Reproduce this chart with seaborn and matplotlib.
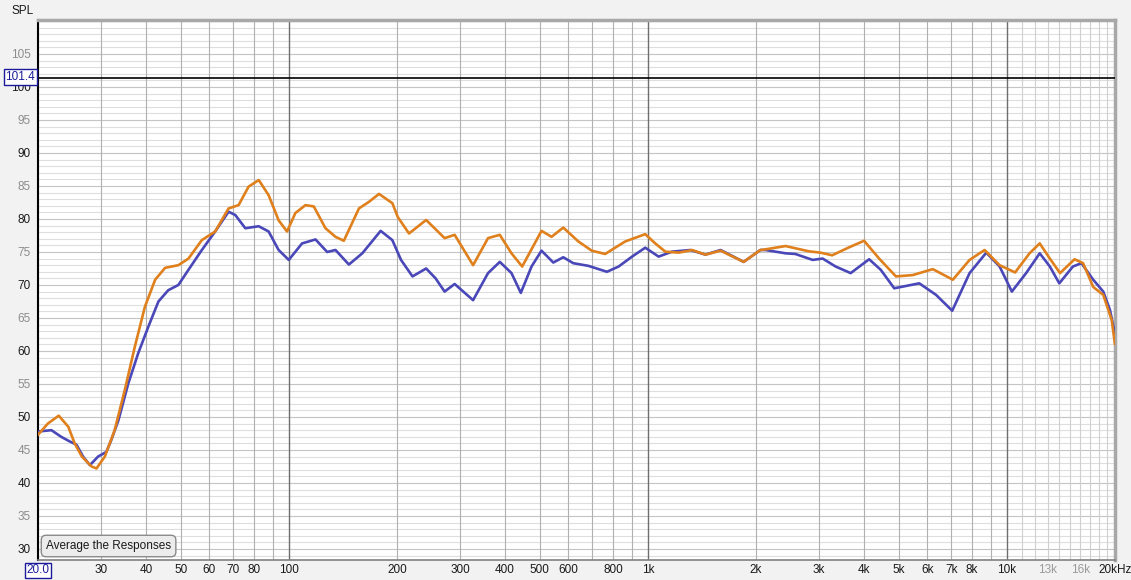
import numpy as np
import pandas as pd
import matplotlib
matplotlib.use("Agg")
import matplotlib.pyplot as plt
import seaborn as sns

# readings taken off the reference chart (Hz, dB SPL)
orange_freq = [20, 21.3, 22.85, 24.3, 25.3, 26.5, 28.2, 29.1, 30.7, 32.7, 34.9, 37.2,
               39.7, 42.4, 45.2, 49.2, 52.5, 57.2, 62.3, 67.9, 72.4, 77.2, 82.4,
               87.8, 93.6, 98.8, 104.2, 111.2, 117.3, 126.4, 134.8, 142.2, 156.7,
               167.1, 178.2, 194.1, 201, 216, 241.1, 271.4, 289.5, 325.8, 358.6,
               386.7, 416.8, 446.4, 505.3, 539, 581, 639.8, 697.4, 760, 864.6,
               982.9, 1048, 1118, 1218, 1327, 1446, 1593, 1848, 2057, 2126, 2417,
               2808, 3025, 3260, 3631, 4000, 4406, 4907, 5464, 6216, 7070, 7870,
               8665, 9542, 10540, 11560, 12340, 13170, 14060, 15430, 16300, 17390,
               18550, 19580, 20000]
orange_spl = [47.3, 49.0, 50.2, 48.5, 46.0, 44.0, 42.5, 42.2, 44.0, 48.0, 54.1, 60.6,
              66.7, 70.8, 72.6, 73.0, 74.0, 76.8, 78.1, 81.6, 82.1, 84.9, 85.9,
              83.6, 79.8, 78.1, 80.9, 82.1, 81.9, 78.6, 77.3, 76.7, 81.6,
              82.6, 83.8, 82.4, 80.3, 77.8, 79.85, 77.1, 77.6, 73.0, 77.1,
              77.6, 74.8, 72.8, 78.2, 77.3, 78.7, 76.6, 75.2, 74.7, 76.6,
              77.7, 76.3, 75.05, 74.9, 75.3, 74.6, 75.2, 73.5, 75.3, 75.4, 75.9,
              75.1, 74.9, 74.5, 75.7, 76.7, 74.0, 71.3, 71.5, 72.4, 70.8, 73.8,
              75.3, 73.0, 71.9, 74.8, 76.3, 74.0, 71.8, 73.9, 73.3, 69.7,
              68.5, 64.7, 61.0]

blue_freq = [20, 21.8, 23.2, 24.5, 25.6, 26.7, 27.9, 29.4, 31.0, 32.0, 33.5, 35.7,
             38.0, 40.6, 43.3, 46.1, 49.2, 52.5, 57.2, 62.3, 67.9, 70.9, 75.6,
             82.4, 87.8, 93.6, 99.9, 108.8, 118.6, 127.8, 134.8, 146.9, 160.1,
             180.1, 194.1, 205.2, 220.9, 241.1, 256.2, 271.4, 289.5, 325.8,
             358.6, 386.7, 416.8, 442.5, 474, 505.3, 545, 581, 619.5, 682.4,
             768.9, 828.7, 903.2, 982.9, 1071, 1167, 1312, 1446, 1593, 1848,
             2057, 2126, 2417, 2574, 2876, 3068, 3332, 3671, 4132, 4452, 4854,
             5700, 6347, 7040, 7870, 8760, 9542, 10320, 11310, 12340, 13170,
             13990, 15270, 16130, 17390, 18550, 19370, 20000]
blue_spl = [47.8, 48.0, 47.0, 46.3, 45.8, 44.0, 42.7, 44.0, 44.7, 46.5, 49.5, 55.1,
            59.6, 63.7, 67.5, 69.2, 70.0, 72.3, 75.3, 78.1, 81.1, 80.6, 78.6,
            78.9, 78.1, 75.3, 73.8, 76.3, 76.9, 75.0, 75.3, 73.1, 74.8,
            78.2, 76.8, 73.8, 71.3, 72.5, 71.0, 69.0, 70.15, 67.7,
            71.8, 73.5, 71.8, 68.8, 72.8, 75.2, 73.4, 74.2, 73.3, 72.9,
            72.0, 72.8, 74.3, 75.65, 74.3, 75.05, 75.3, 74.6, 75.3, 73.5,
            75.3, 75.3, 74.8, 74.7, 73.8, 74.0, 72.8, 71.8, 73.9, 72.3, 69.5,
            70.25, 68.5, 66.1, 71.8, 74.9, 72.8, 69.0, 71.8, 74.8, 72.8,
            70.25, 72.8, 73.3, 70.8, 69.0, 66.2, 62.5]

x_ticks = [20, 30, 40, 50, 60, 70, 80, 100, 200, 300, 400, 500, 600, 800,
           1000, 2000, 3000, 4000, 5000, 6000, 7000, 8000, 10000, 13000, 16000, 20000]
x_labels = ["20.0", "30", "40", "50", "60", "70", "80", "100", "200", "300", "400",
            "500", "600", "800", "1k", "2k", "3k", "4k", "5k", "6k", "7k", "8k",
            "10k", "13k", "16k", "20kHz"]
y_ticks = list(range(30, 110, 5))
cursor_level = 101.4

orange_df = pd.DataFrame({"freq": orange_freq, "spl": orange_spl})
blue_df = pd.DataFrame({"freq": blue_freq, "spl": blue_spl})

sns.set_style("white")
plt.rcParams["font.family"] = ["Liberation Sans", "DejaVu Sans"]

fig = plt.figure(figsize=(11.31, 5.80), dpi=100, facecolor="#f2f2f2")
ax = fig.add_axes([38 / 1131, 1 - 560 / 580, (1115 - 38) / 1131, 540 / 580])
ax.set_facecolor("white")
ax.set_xscale("log")
ax.set_xlim(20, 20000)
ax.set_ylim(28.33, 110.15)

# grid lines
for v in np.arange(29, 111, 1):
    major = v % 5 == 0
    ax.axhline(v, color="#c4c4c4" if major else "#dedede", lw=0.8, zorder=0)
minor_v = []
for dec in [10, 100, 1000]:
    for m in range(2, 10):
        minor_v.append(dec * m)
for f in minor_v:
    if 20 <= f <= 10000:
        ax.axvline(f, color="#b0b0b0", lw=0.8, zorder=0)
for f in range(11000, 20000, 1000):
    ax.axvline(f, color="#cfcfcf", lw=0.8, zorder=0)
for f in [100, 1000, 10000]:
    ax.axvline(f, color="#6e6e6e", lw=1.0, zorder=0)

sns.lineplot(data=blue_df, x="freq", y="spl", ax=ax, color="#4a48b8", lw=1.9,
             zorder=3, solid_joinstyle="round", solid_capstyle="round")
sns.lineplot(data=orange_df, x="freq", y="spl", ax=ax, color="#e0801c", lw=1.9,
             zorder=4, solid_joinstyle="round", solid_capstyle="round")

ax.axhline(cursor_level, color="black", lw=1.2, zorder=6)

ax.set_xticks(x_ticks)
ax.set_xticklabels(x_labels)
ax.xaxis.set_minor_locator(matplotlib.ticker.NullLocator())
ax.set_yticks(y_ticks)
ax.set_yticklabels([str(v) for v in y_ticks])
ax.tick_params(axis="both", length=0, labelsize=8.5)
ax.tick_params(axis="x", pad=3)
ax.tick_params(axis="y", pad=5)
ax.set_xlabel("")
ax.set_ylabel("")

for lab, f in zip(ax.get_xticklabels(), x_ticks):
    if f in (13000, 16000):
        lab.set_color("#9a9a9a")
    else:
        lab.set_color("#1a1a1a")
    if f == 20:
        lab.set_color("#1a1a9a")
        lab.set_bbox(dict(facecolor="white", edgecolor="#1a1a9a", lw=1, pad=1))
for lab, v in zip(ax.get_yticklabels(), y_ticks):
    lab.set_color("#1a1a1a" if v % 10 == 0 else "#8c8c8c")

# spines
for side in ["top", "right"]:
    ax.spines[side].set_color("#a8a8a8")
    ax.spines[side].set_linewidth(2.5)
ax.spines["left"].set_color("black")
ax.spines["left"].set_linewidth(1.5)
ax.spines["bottom"].set_color("#808080")
ax.spines["bottom"].set_linewidth(1.2)

# cursor readout box
fig.text(35 / 1131, 1 - 77 / 580, "101.4", ha="right", va="center", fontsize=8.5,
         color="#1a1a9a", zorder=10,
         bbox=dict(facecolor="white", edgecolor="#1a1a9a", lw=1, pad=1.2))

fig.text(12 / 1131, 1 - 11 / 580, "SPL", ha="left", va="center", fontsize=8.5,
         color="#1a1a1a")

fig.text(46 / 1131, 1 - 546 / 580, "Average the Responses", ha="left", va="center",
         fontsize=8.5, color="#1a1a1a", zorder=10,
         bbox=dict(boxstyle="round,pad=0.4,rounding_size=0.4",
                   facecolor="#ececec", edgecolor="#8a8a8a", lw=1))

fig.savefig("out.png", dpi=100, facecolor=fig.get_facecolor())
